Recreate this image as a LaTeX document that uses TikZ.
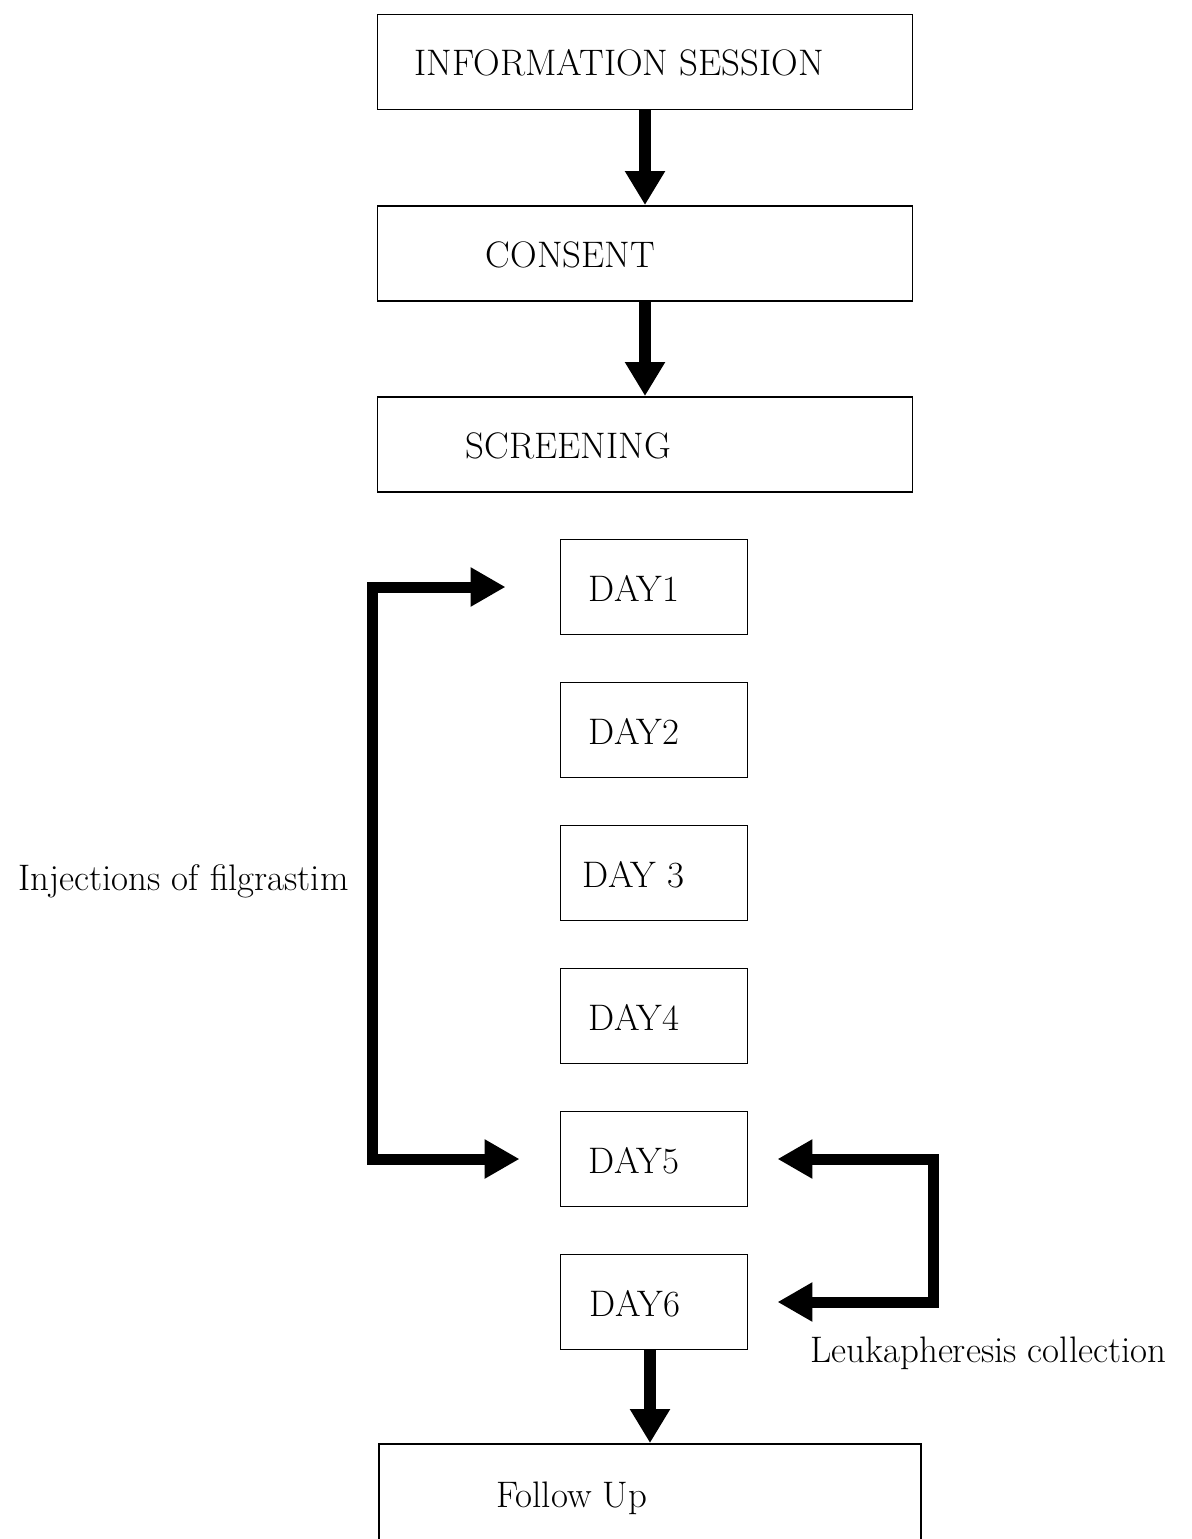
\documentclass[tikz,border=0pt]{standalone}
\usepackage{xcolor}
\usepackage{tikz}
\usetikzlibrary{positioning, arrows.meta}

\begin{document}
\begin{tikzpicture}[
    box/.style={draw, line width=1.1pt, minimum height=1.9cm},
    stage/.style={box, minimum width=10.7cm},
    day/.style={box, minimum width=3.74cm},
    txt/.style={inner sep=0pt, font=\fontsize{21}{25}\selectfont},
    intxt/.style={txt, anchor=base west, yshift=-0.28cm},
    arrow/.style={-{Triangle[length=0.68cm,width=0.76cm]}, line width=0.24cm},
    bracket/.style={{Triangle[length=0.7cm,width=0.74cm]}-{Triangle[length=0.7cm,width=0.74cm]}, line width=0.22cm}
]
\useasboundingbox (0,0) rectangle (23.82,-30.78);

\node[stage] (info) at (12.9,-1.24) {};
\node[stage] (consent) at (12.9,-5.07) {};
\node[stage] (screen) at (12.9,-8.89) {};
\node[stage, minimum width=10.84cm, minimum height=1.96cm] (follow) at (13.0,-29.86) {};

\node[intxt, xshift=0.76cm] (infotxt) at (info.west) {INFORMATION SESSION};
\node[intxt, xshift=2.18cm] (consenttxt) at (consent.west) {CONSENT};
\node[intxt, xshift=1.78cm] (screentxt) at (screen.west) {SCREENING};
\node[intxt, xshift=2.36cm] (followtxt) at (follow.west) {Follow Up};

\foreach \i/\lab/\off in {1/DAY1/0.58, 2/DAY2/0.58, 3/DAY 3/0.46, 4/DAY4/0.58, 5/DAY5/0.58, 6/DAY6/0.6} {
    \node[day] (day\i) at (13.08,{-11.74-2.86*(\i-1)}) {};
    \node[intxt, xshift=\off cm] (daytxt\i) at (day\i.west) {\lab};
}

\draw[arrow] (info) -- (consent);
\draw[arrow] (consent) -- (screen);
\draw[arrow] (follow.north |- day6.south) -- (follow.north);

% filgrastim days 1-5, collection days 5-6
\coordinate (inj) at (7.45,0);
\coordinate (leuk) at (18.66,0);
\draw[bracket, shorten <=1.08cm, shorten >=0.8cm] (day1.west) -- (day1.west -| inj) -- (day5.west -| inj) -- (day5.west);
\draw[bracket, shorten <=0.58cm, shorten >=0.58cm] (day5.east) -- (day5.east -| leuk) -- (day6.east -| leuk) -- (day6.east);

\node[txt, anchor=base east] (inject) at (6.98,-17.8) {Injections of filgrastim};
\node[txt, anchor=base west] (leukap) at (16.2,-27.24) {Leukapheresis collection};

\end{tikzpicture}
\end{document}
